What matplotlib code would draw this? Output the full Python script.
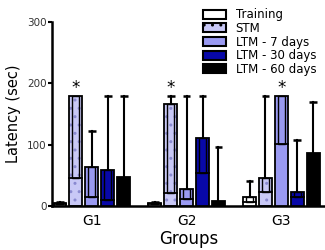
import matplotlib
matplotlib.use("Agg")
import matplotlib.pyplot as plt
import numpy as np
from matplotlib.patches import Patch

groups = ["G1", "G2", "G3"]
series = ["Training", "STM", "LTM - 7 days", "LTM - 30 days", "LTM - 60 days"]
# upper edge of each bar (sec)
tops = {
    "Training": [5, 5, 15],
    "STM": [180, 166, 45],
    "LTM - 7 days": [64, 28, 180],
    "LTM - 30 days": [59, 111, 23],
    "LTM - 60 days": [48, 8, 87],
}
# inner line (median) of each bar
medians = {
    "Training": [3, 3, 7],
    "STM": [45, 21, 23],
    "LTM - 7 days": [15, 12, 101],
    "LTM - 30 days": [10, 53, 15],
    "LTM - 60 days": [np.nan, np.nan, np.nan],
}
# whisker end
maxima = {
    "Training": [7, 7, 40],
    "STM": [180, 180, 180],
    "LTM - 7 days": [122, 180, 180],
    "LTM - 30 days": [180, 180, 108],
    "LTM - 60 days": [180, 97, 170],
}
stars = [("STM", 0), ("STM", 1), ("LTM - 7 days", 2)]
star_y = 193

colors = {
    "Training": "#ffffff",
    "STM": "#c8c8f6",
    "LTM - 7 days": "#9a9af2",
    "LTM - 30 days": "#0808a8",
    "LTM - 60 days": "#000000",
}

fig = plt.figure(figsize=(3.25, 2.5), dpi=100)
ax = fig.add_axes([0.16, 0.176, 0.84, 0.736])

x = np.arange(len(groups))
pitch = 0.168
width = 0.135
for i, s in enumerate(series):
    xs = x + (i - 2) * pitch
    t = np.array(tops[s], float)
    if s == "STM":
        ax.bar(xs, t, width, color=colors[s], edgecolor="none", zorder=2)
        ax.bar(xs, t, width, color="none", edgecolor="#8a8ad0", hatch="..", linewidth=0, zorder=2.5)
        ax.bar(xs, t, width, color="none", edgecolor="black", linewidth=1.3, zorder=3)
    else:
        ax.bar(xs, t, width, color=colors[s], edgecolor="black", linewidth=1.3, zorder=3)
    m = np.array(medians[s], float)
    for xi, ti, mi, mx in zip(xs, t, m, maxima[s]):
        if not np.isnan(mi):
            ax.bar(xi, ti - mi, width * 0.55, bottom=mi, color="none",
                   edgecolor="black", linewidth=1.0, zorder=3.5)
            ax.plot([xi - width / 2, xi + width / 2], [mi, mi], color="black", lw=1.3, zorder=3.6)
        if mx > ti:
            ax.plot([xi, xi], [ti, mx], color="black", lw=1.5, zorder=2)
            ax.plot([xi - width * 0.3, xi + width * 0.3], [mx, mx], color="black", lw=1.8,
                    solid_capstyle="butt", zorder=2)

for s, g in stars:
    xi = x[g] + (series.index(s) - 2) * pitch
    ax.text(xi, star_y, "*", ha="center", va="center", fontsize=12)

ax.set_xlim(-0.42, 2.46)
ax.set_ylim(0, 300)
ax.set_yticks([0, 100, 200, 300])
ax.set_xticks(x)
ax.set_xticklabels(groups, fontsize=10)
ax.tick_params(axis="x", length=0, pad=6)
ax.tick_params(axis="y", labelsize=7.5, width=1.5, length=3, pad=1, labelcolor="#333333")
for sp in ["top", "right"]:
    ax.spines[sp].set_visible(False)
for sp in ["left", "bottom"]:
    ax.spines[sp].set_linewidth(1.8)
ax.set_xlabel("Groups", fontsize=12, labelpad=1)
ax.set_ylabel("Latency (sec)", fontsize=10.5, labelpad=4)

handles = []
for s in series:
    if s == "STM":
        handles.append(Patch(facecolor=colors[s], edgecolor="black", linewidth=1.5, hatch=".."))
    else:
        handles.append(Patch(facecolor=colors[s], edgecolor="black", linewidth=1.5))
leg = fig.legend(handles, series, loc="upper left", bbox_to_anchor=(0.605, 0.99),
                 frameon=False, fontsize=8.5, handlelength=2.0, handleheight=0.8,
                 labelspacing=0.05, handletextpad=0.8, borderpad=0)

fig.savefig("out.png", dpi=100)
